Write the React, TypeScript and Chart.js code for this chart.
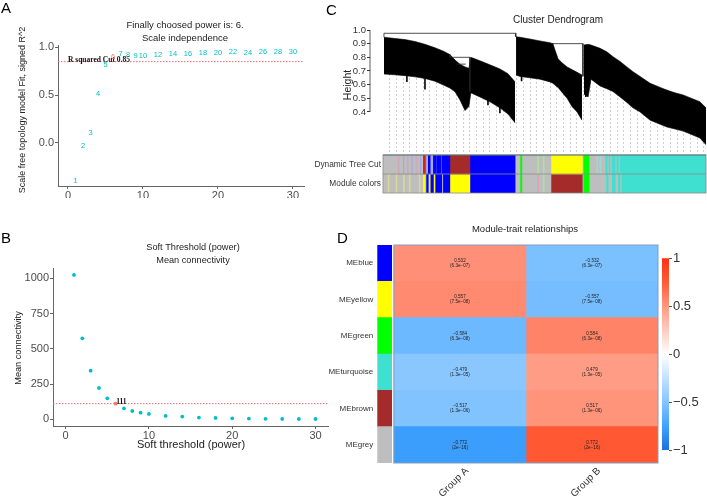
import React, { useEffect, useRef } from "react";
import { Chart, registerables } from "chart.js";
Chart.register(...registerables);

const SANS = "'Liberation Sans', Arial, Helvetica, sans-serif";
const SERIF = "'Liberation Serif', 'Times New Roman', serif";
Chart.defaults.font.family = SANS;

// ---------------- Panels A / B : soft-threshold selection ----------------
const powers = [1, 2, 3, 4, 5, 6, 7, 8, 9, 10, 12, 14, 16, 18, 20, 22, 24, 26, 28, 30];
const scaleFreeFit = [-0.40, -0.03, 0.109, 0.51, 0.815, 0.895, 0.93, 0.92, 0.91, 0.91, 0.92, 0.93, 0.93, 0.937, 0.937, 0.947, 0.937, 0.947, 0.95, 0.95];
const meanConnectivity = [1024, 574, 345, 222, 149, 111, 78, 59, 47, 38, 24, 19, 12, 9.5, 7, 5, 3.5, 3, 2, 2];
const chosenPower = 6;
const rSquaredCut = 0.85;

// ---------------- Panel C : cluster dendrogram ----------------
// leaf position = % of ordered genes, heights = merge height (1 - TOM)
const leftLeafPos = [0.3, 3.7, 6.8, 9.9, 13.0, 16.1, 18.9, 20.7, 22.3, 23.8, 25.4, 26.6, 27.2, 30.0, 33.1, 36.2, 38.7, 40.9];
const leftTop = [0.947, 0.938, 0.93, 0.916, 0.895, 0.87, 0.843, 0.82, 0.78, 0.75, 0.73, 0.72, 0.80, 0.775, 0.745, 0.715, 0.68, 0.62];
const leftBottom = [0.678, 0.672, 0.666, 0.657, 0.645, 0.625, 0.595, 0.575, 0.548, 0.49, 0.41, 0.44, 0.54, 0.51, 0.475, 0.43, 0.385, 0.32];
const midLeafPos = [41.2, 42.4, 45.5, 48.6, 51.7, 52.6, 53.6, 54.2, 55.4, 57.0, 58.5, 60.1, 61.6];
const midTop = [0.951, 0.947, 0.934, 0.92, 0.907, 0.90, 0.83, 0.79, 0.76, 0.73, 0.71, 0.69, 0.67];
const midBottom = [0.67, 0.66, 0.65, 0.64, 0.62, 0.61, 0.59, 0.58, 0.545, 0.50, 0.44, 0.40, 0.34];
const rightLeafPos = [62.2, 63.5, 64.4, 67.2, 69.3, 71.2, 73.4, 75.5, 77.4, 79.6, 82.7, 85.8, 87.9, 90.4, 92.9, 95.0, 98.1, 100];
const rightTop = [0.89, 0.895, 0.89, 0.866, 0.84, 0.805, 0.77, 0.73, 0.695, 0.66, 0.61, 0.58, 0.56, 0.54, 0.525, 0.505, 0.475, 0.43];
const rightBottom = [0.53, 0.51, 0.64, 0.59, 0.57, 0.55, 0.51, 0.47, 0.43, 0.40, 0.34, 0.31, 0.29, 0.275, 0.26, 0.24, 0.21, 0.16];
const spikePos = [7.4, 13.0, 32.5, 36.2, 42.9, 62.8];
const spikeLow = [0.62, 0.565, 0.45, 0.39, 0.625, 0.51];
const mergeRoot: [number, number][] = [[0.3, 0.947], [0.3, 0.976], [41.1, 0.976], [41.1, 0.95]];
const mergeLeftSub: [number, number][] = [[20.7, 0.82], [20.7, 0.80], [26.9, 0.80], [26.9, 0.55]];
const mergeLeftInner: [number, number][] = [[22.6, 0.75], [25.6, 0.75]];
const mergeMidSub: [number, number][] = [[52.6, 0.905], [52.6, 0.90], [61.9, 0.90], [61.9, 0.66]];
const heightTicks = [0.4, 0.5, 0.6, 0.7, 0.8, 0.9, 1.0];
const colorRows = ["Dynamic Tree Cut", "Module colors"];
const treeCutSegments: [number, number, string][] = [
  [4.7, 5.0, "pink"], [6.3, 6.5, "lavender"], [7.5, 7.8, "pink"], [8.9, 9.1, "lavender"], [10.2, 10.5, "pink"], [11.5, 11.7, "lavender"],
  [12.5, 12.9, "red"], [12.9, 13.3, "purple"], [14.0, 14.6, "blue"], [14.6, 15.4, "lavender"], [15.4, 16.4, "blue"], [16.6, 17.9, "blue"],
  [18.2, 20.7, "blue"], [20.7, 26.9, "brown"], [26.9, 40.9, "blue"], [42.6, 43.0, "green"], [47.9, 48.2, "palegreen"], [49.6, 49.9, "palegreen"],
  [52.2, 61.7, "yellow"], [62.2, 63.8, "green"], [66.2, 66.5, "paleturquoise"], [67.2, 67.5, "paleturquoise"], [69.0, 69.4, "turquoise"],
  [70.0, 70.3, "turquoise"], [70.9, 71.9, "turquoise"], [72.4, 72.9, "turquoise"], [73.4, 100, "turquoise"],
];
const moduleSegments: [number, number, string][] = [
  [1.6, 1.9, "paleyellow"], [4.0, 4.3, "paleyellow"], [6.3, 6.6, "paleyellow"], [8.1, 8.4, "paleyellow"], [11.2, 11.5, "paleyellow"],
  [12.5, 13.0, "yellow"], [13.5, 14.0, "blue"], [14.3, 14.6, "yellow"], [14.6, 15.6, "blue"], [15.8, 16.1, "yellow"], [16.1, 18.2, "blue"],
  [18.7, 20.7, "blue"], [20.7, 26.9, "yellow"], [26.9, 40.9, "blue"], [42.6, 43.0, "green"], [47.9, 48.2, "pink"], [49.6, 49.9, "palegreen"],
  [52.2, 61.7, "brown"], [62.2, 63.8, "green"], [69.2, 69.7, "turquoise"], [71.0, 71.9, "turquoise"], [72.9, 73.4, "turquoise"], [74.0, 100, "turquoise"],
];

// ---------------- Panel D : module-trait relationships ----------------
const modules = ["MEblue", "MEyellow", "MEgreen", "MEturquoise", "MEbrown", "MEgrey"];
const moduleColorNames = ["blue", "yellow", "green", "turquoise", "brown", "grey"];
const traits = ["Group A", "Group B"];
const corrGroupA = [0.532, 0.557, -0.584, -0.479, -0.517, -0.772];
const corrGroupB = [-0.532, -0.557, 0.584, 0.479, 0.517, 0.772];
const pvalGroupA = ["6.3e-07", "7.5e-08", "6.3e-08", "1.3e-05", "1.3e-06", "2e-16"];
const pvalGroupB = ["6.3e-07", "7.5e-08", "6.3e-08", "1.3e-05", "1.3e-06", "2e-16"];
const colorbarTicks = [-1, -0.5, 0, 0.5, 1];

// ---------------- styles ----------------
const COLOR_HEX: Record<string, string> = {
  grey: "#BEBEBE", blue: "#0000FF", brown: "#A52A2A", yellow: "#FFFF00", green: "#00FF00", turquoise: "#40E0D0",
  red: "#D42020", purple: "#7F50D0", lavender: "#A8A8E0", pink: "#D0A8B8", paleyellow: "#D8D890", palegreen: "#B0E0A0", paleturquoise: "#9ED8D0",
};
const CYAN = "#00BFC4";
const CORAL = "#F8766D";
const SCALE_STOPS: [number, number[]][] = [
  [-1, [30, 111, 224]], [-0.75, [63, 162, 255]], [-0.5, [133, 197, 255]], [0, [255, 255, 255]],
  [0.5, [255, 152, 128]], [0.75, [255, 92, 54]], [1, [255, 48, 16]],
];
function corrColor(v: number): string {
  for (let i = 0; i < SCALE_STOPS.length - 1; i++) {
    const [a, ca] = SCALE_STOPS[i];
    const [b, cb] = SCALE_STOPS[i + 1];
    if (v >= a && v <= b) {
      const t = (v - a) / (b - a);
      const c = ca.map((x, k) => Math.round(x + (cb[k] - x) * t));
      return `rgb(${c[0]},${c[1]},${c[2]})`;
    }
  }
  return "#fff";
}
const minus = (s: string) => s.replace("-", "\u2212");

type TextItem = { t: string; x: number; y: number; size: number; color?: string; family?: string; weight?: string; align?: CanvasTextAlign; baseline?: CanvasTextBaseline; rot?: number };
function textPlugin(id: string, items: TextItem[]) {
  return {
    id,
    afterDraw(chart: any) {
      const ctx = chart.ctx as CanvasRenderingContext2D;
      items.forEach((it) => {
        ctx.save();
        ctx.font = `${it.weight || "normal"} ${it.size}px ${it.family || SANS}`;
        ctx.fillStyle = it.color || "#222";
        ctx.textAlign = it.align || "center";
        ctx.textBaseline = it.baseline || "middle";
        ctx.translate(it.x, it.y);
        if (it.rot) ctx.rotate(it.rot);
        ctx.fillText(it.t, 0, 0);
        ctx.restore();
      });
    },
  };
}
const fixW = (w: number) => (s: any) => { s.width = w; };
const fixH = (h: number) => (s: any) => { s.height = h; };
const base = { animation: false, responsive: false, devicePixelRatio: 1, events: [] as any[] };
const noPlug = { legend: { display: false }, tooltip: { enabled: false } };

// ---------------- Panel A ----------------
function configA() {
  const X0 = -1.33, X1 = 31.47;
  const labels = {
    id: "sftLabels",
    afterDatasetsDraw(chart: any) {
      const ctx = chart.ctx as CanvasRenderingContext2D;
      const xs = chart.scales.x, ys = chart.scales.y;
      ctx.save();
      ctx.font = `bold 7.5px ${SERIF}`;
      ctx.fillStyle = "#111";
      ctx.textAlign = "left";
      ctx.textBaseline = "alphabetic";
      ctx.fillText("R squared Cut " + rSquaredCut, xs.getPixelForValue(0), ys.getPixelForValue(rSquaredCut));
      const meta = chart.getDatasetMeta(0);
      ctx.font = `7.5px ${SANS}`;
      ctx.textAlign = "center";
      ctx.textBaseline = "middle";
      meta.data.forEach((el: any, i: number) => {
        ctx.fillStyle = powers[i] === chosenPower ? CORAL : CYAN;
        ctx.fillText(String(powers[i]), el.x, el.y);
      });
      ctx.restore();
    },
  };
  return {
    type: "scatter",
    data: {
      datasets: [
        { data: powers.map((p, i) => ({ x: p, y: scaleFreeFit[i] })), pointRadius: 0 },
        { data: [{ x: X0, y: rSquaredCut }, { x: X1, y: rSquaredCut }], showLine: true, pointRadius: 0, borderColor: "#F06A70", borderWidth: 1, borderDash: [1.5, 1.5] },
      ],
    },
    options: {
      ...base,
      layout: { padding: { left: 18, top: 45, right: 16, bottom: 7 } },
      plugins: noPlug,
      scales: {
        x: {
          type: "linear", min: X0, max: X1, afterFit: fixH(12),
          ticks: { stepSize: 10, includeBounds: false, padding: 0, color: "#4d4d4d", font: { size: 11 }, maxRotation: 0 },
          grid: { drawOnChartArea: false, tickLength: 3, color: "#666" }, border: { color: "#666" },
        },
        y: {
          type: "linear", min: -0.45, max: 1.024, afterFit: fixW(40),
          ticks: { stepSize: 0.5, includeBounds: false, padding: 1, color: "#4d4d4d", font: { size: 11 }, callback: (v: number) => v.toFixed(1) },
          grid: { drawOnChartArea: false, tickLength: 3, color: "#666" }, border: { color: "#666" },
        },
      },
    },
    plugins: [
      labels,
      textPlugin("txtA", [
        { t: "A", x: 1, y: 13, size: 15, color: "#000", align: "left", baseline: "alphabetic" },
        { t: "Finally choosed power is: " + chosenPower + ".", x: 185, y: 25, size: 9.5 },
        { t: "Scale independence", x: 185, y: 38, size: 9.5 },
        { t: "Scale free topology model Fit, signed R^2", x: 23, y: 110, size: 9, rot: -Math.PI / 2 },
      ]),
    ],
  };
}

// ---------------- Panel B ----------------
function configB() {
  const X0 = -1.52, X1 = 31.5;
  const lab = {
    id: "kLabel",
    afterDatasetsDraw(chart: any) {
      const ctx = chart.ctx as CanvasRenderingContext2D;
      const idx = powers.indexOf(chosenPower);
      const el = chart.getDatasetMeta(0).data[idx];
      ctx.save();
      ctx.font = `bold 7.5px ${SERIF}`;
      ctx.fillStyle = "#111";
      ctx.textAlign = "left";
      ctx.textBaseline = "alphabetic";
      ctx.fillText(String(Math.round(meanConnectivity[idx])), el.x + 0.5, el.y + 0.5);
      ctx.restore();
    },
  };
  return {
    type: "scatter",
    data: {
      datasets: [
        {
          data: powers.map((p, i) => ({ x: p, y: meanConnectivity[i] })), pointRadius: 1.9, borderWidth: 0,
          backgroundColor: powers.map((p) => (p === chosenPower ? CORAL : CYAN)),
        },
        { data: [{ x: X0, y: meanConnectivity[powers.indexOf(chosenPower)] }, { x: X1, y: meanConnectivity[powers.indexOf(chosenPower)] }], showLine: true, pointRadius: 0, borderColor: "#F06A70", borderWidth: 1, borderDash: [1.5, 1.5] },
      ],
    },
    options: {
      ...base,
      layout: { padding: { left: 13, top: 68, right: 7, bottom: 56 } },
      plugins: noPlug,
      scales: {
        x: {
          type: "linear", min: X0, max: X1, afterFit: fixH(20),
          ticks: { stepSize: 10, includeBounds: false, padding: 0, color: "#4d4d4d", font: { size: 11 }, maxRotation: 0 },
          grid: { drawOnChartArea: false, tickLength: 3, color: "#666" }, border: { color: "#666" },
        },
        y: {
          type: "linear", min: -47.5, max: 1073, afterFit: fixW(40),
          ticks: { stepSize: 250, includeBounds: false, padding: 1, color: "#4d4d4d", font: { size: 11 }, callback: (v: number) => String(v) },
          grid: { drawOnChartArea: false, tickLength: 3, color: "#666" }, border: { color: "#666" },
        },
      },
    },
    plugins: [
      lab,
      textPlugin("txtB", [
        { t: "B", x: 1, y: 43, size: 15, color: "#000", align: "left", baseline: "alphabetic" },
        { t: "Soft Threshold (power)", x: 193, y: 47, size: 9.2 },
        { t: "Mean connectivity", x: 193, y: 60, size: 9.2 },
        { t: "Soft threshold (power)", x: 191, y: 245, size: 11 },
        { t: "Mean connectivity", x: 18, y: 148, size: 9.2, rot: -Math.PI / 2 },
      ]),
    ],
  };
}

// ---------------- Panel C (dendrogram) ----------------
function configC1() {
  const pts = (xs: number[], ys: number[]) => xs.map((x, i) => ({ x, y: ys[i] }));
  const line = (p: [number, number][]) => ({ data: p.map(([x, y]) => ({ x, y })), borderColor: "#222", borderWidth: 0.8, fill: false, order: 0 });
  const massTop = (xs: number[], ys: number[]) => ({ data: pts(xs, ys), borderColor: "#000", borderWidth: 0.6, backgroundColor: "#000", fill: "+1", order: 1 });
  const massBot = (xs: number[], ys: number[]) => ({ data: pts(xs, ys), borderColor: "#000", borderWidth: 0.6, fill: false, order: 1 });
  const cover = {
    data: [...pts(leftLeafPos, leftTop), ...pts(midLeafPos, midTop), ...pts(rightLeafPos, rightTop)],
    borderWidth: 0, backgroundColor: "#fff", fill: "end", order: 5,
  };
  const spikes = {
    data: spikePos.flatMap((p, i) => [{ x: p, y: spikeLow[i] }, { x: p, y: spikeLow[i] + 0.1 }, { x: p, y: null }]),
    borderColor: "#000", borderWidth: 1.6, fill: false, order: 0,
  };
  const axisLine = {
    id: "cAxis",
    afterDraw(chart: any) {
      const ctx = chart.ctx as CanvasRenderingContext2D;
      const ys = chart.scales.y;
      const x = chart.chartArea.left;
      ctx.save();
      ctx.strokeStyle = "#333";
      ctx.lineWidth = 0.8;
      ctx.beginPath();
      ctx.moveTo(x, ys.getPixelForValue(heightTicks[heightTicks.length - 1]));
      ctx.lineTo(x, ys.getPixelForValue(heightTicks[0]));
      ctx.stroke();
      ctx.restore();
    },
  };
  return {
    type: "line",
    data: {
      datasets: [
        line(mergeRoot), line(mergeLeftSub), line(mergeLeftInner), line(mergeMidSub), spikes,
        massTop(leftLeafPos, leftTop), massBot(leftLeafPos, leftBottom),
        massTop(midLeafPos, midTop), massBot(midLeafPos, midBottom),
        massTop(rightLeafPos, rightTop), massBot(rightLeafPos, rightBottom),
        cover,
      ],
    },
    options: {
      ...base,
      layout: { padding: { left: 0, top: 30, right: 1, bottom: 7 } },
      plugins: { ...noPlug, filler: { propagate: false } },
      elements: { point: { radius: 0 }, line: { tension: 0 } },
      scales: {
        x: {
          type: "linear", min: -4.02, max: 100, afterFit: fixH(0),
          ticks: { display: false, stepSize: 2.07, autoSkip: false, includeBounds: false },
          afterBuildTicks: (s: any) => { s.ticks = s.ticks.filter((t: any) => t.value > 0.5); },
          grid: { color: "#c4c4c4", lineWidth: 0.8, drawTicks: false },
          border: { display: false, dash: [2, 2] },
        },
        y: {
          type: "linear", min: 0.107, max: 1.0, afterFit: fixW(50),
          afterBuildTicks: (s: any) => { s.ticks = heightTicks.map((v) => ({ value: v })); },
          ticks: { padding: 1, color: "#333", font: { size: 9.5 }, callback: (v: number) => v.toFixed(1) },
          grid: { drawOnChartArea: false, tickLength: 3, color: "#333" },
          border: { display: false },
        },
      },
    },
    plugins: [
      axisLine,
      textPlugin("txtC", [
        { t: "C", x: 6, y: 15, size: 15, color: "#000", align: "left", baseline: "alphabetic" },
        { t: "Cluster Dendrogram", x: 238, y: 20, size: 10 },
        { t: "Height", x: 28, y: 85, size: 10.5, rot: -Math.PI / 2 },
      ]),
    ],
  };
}

// ---------------- Panel C (colour rows) ----------------
function configC2() {
  const seg = (row: number, s: [number, number, string]) => ({
    data: row === 0 ? [[s[0], s[1]], null] : [null, [s[0], s[1]]],
    backgroundColor: COLOR_HEX[s[2]], grouped: false, barPercentage: 1, categoryPercentage: 1, borderWidth: 0, order: 0,
  });
  const frame = {
    id: "rowFrame",
    afterDatasetsDraw(chart: any) {
      const ctx = chart.ctx as CanvasRenderingContext2D;
      const a = chart.chartArea;
      ctx.save();
      ctx.strokeStyle = "#8a8a8a";
      ctx.lineWidth = 0.8;
      ctx.strokeRect(a.left, a.top, a.right - a.left, a.bottom - a.top);
      ctx.beginPath();
      const mid = chart.scales.y.getPixelForValue(0.5);
      ctx.moveTo(a.left, mid);
      ctx.lineTo(a.right, mid);
      ctx.stroke();
      ctx.strokeStyle = "#4a6a6a";
      ctx.beginPath();
      ctx.moveTo(a.left, a.top);
      ctx.lineTo(a.right, a.top);
      ctx.stroke();
      ctx.restore();
    },
  };
  const baseRow = { data: [[0, 100], [0, 100]], backgroundColor: COLOR_HEX.grey, grouped: false, barPercentage: 1, categoryPercentage: 1, borderWidth: 0, order: 10 };
  return {
    type: "bar",
    data: {
      labels: colorRows,
      datasets: [baseRow, ...treeCutSegments.map((s) => seg(0, s)), ...moduleSegments.map((s) => seg(1, s))],
    },
    options: {
      ...base,
      indexAxis: "y",
      layout: { padding: { left: 0, top: 6, right: 1, bottom: 5 } },
      plugins: noPlug,
      scales: {
        x: { type: "linear", min: 0, max: 100, display: false },
        y: {
          type: "category", afterFit: fixW(83),
          ticks: { padding: 2, color: "#333", font: { size: 8.3 } },
          grid: { display: false, drawTicks: false }, border: { display: false },
        },
      },
    },
    plugins: [frame],
  };
}

// ---------------- Panel D (heatmap) ----------------
function configD() {
  const SIDE0 = -0.126, SIDE1 = -0.017;
  const bar = { grouped: false, barPercentage: 1, categoryPercentage: 1, borderWidth: 0 };
  const cellText = {
    id: "cellText",
    afterDatasetsDraw(chart: any) {
      const ctx = chart.ctx as CanvasRenderingContext2D;
      const xs = chart.scales.x;
      const a = chart.chartArea;
      ctx.save();
      ctx.font = `4.6px ${SANS}`;
      ctx.fillStyle = "#222";
      ctx.textAlign = "center";
      ctx.textBaseline = "middle";
      [1, 2].forEach((di, k) => {
        const corr = k === 0 ? corrGroupA : corrGroupB;
        const pv = k === 0 ? pvalGroupA : pvalGroupB;
        chart.getDatasetMeta(di).data.forEach((el: any, i: number) => {
          const p = el.getProps(["x", "base", "y"], true);
          const cx = (p.x + p.base) / 2;
          ctx.fillText(minus(corr[i].toFixed(3)), cx, p.y - 2.4);
          ctx.fillText("(" + minus(pv[i]) + ")", cx, p.y + 2.6);
        });
      });
      ctx.strokeStyle = "#7f9fbf";
      ctx.lineWidth = 1;
      const x0 = xs.getPixelForValue(0), x1 = xs.getPixelForValue(2);
      ctx.strokeRect(x0, a.top, x1 - x0, a.bottom - a.top);
      ctx.restore();
    },
  };
  return {
    type: "bar",
    data: {
      labels: modules,
      datasets: [
        { ...bar, data: modules.map(() => [SIDE0, SIDE1]), backgroundColor: moduleColorNames.map((n) => COLOR_HEX[n]) },
        { ...bar, data: modules.map(() => [0, 1]), backgroundColor: corrGroupA.map(corrColor) },
        { ...bar, data: modules.map(() => [1, 2]), backgroundColor: corrGroupB.map(corrColor) },
      ],
    },
    options: {
      ...base,
      indexAxis: "y",
      layout: { padding: { left: 0, top: 45, right: 49, bottom: 0 } },
      plugins: noPlug,
      scales: {
        x: {
          type: "linear", min: SIDE0, max: 2, afterFit: fixH(39),
          afterBuildTicks: (s: any) => { s.ticks = traits.map((_, i) => ({ value: i + 0.5 })); },
          ticks: { minRotation: 45, maxRotation: 45, autoSkip: false, padding: 2, labelOffset: 7, color: "#333", font: { size: 10 }, callback: (_v: number, i: number) => traits[i] },
          grid: { display: false, drawTicks: false }, border: { display: false },
        },
        y: {
          type: "category", afterFit: fixW(57.3),
          ticks: { padding: 4, color: "#333", font: { size: 8 } },
          grid: { display: false, drawTicks: false }, border: { display: false },
        },
      },
    },
    plugins: [
      cellText,
      textPlugin("txtD", [
        { t: "D", x: 17, y: 43, size: 15, color: "#000", align: "left", baseline: "alphabetic" },
        { t: "Module-trait relationships", x: 205, y: 29, size: 9.5 },
      ]),
    ],
  };
}

function configBar() {
  return {
    type: "bar",
    data: {
      labels: [""],
      datasets: [
        {
          data: [[colorbarTicks[0], colorbarTicks[colorbarTicks.length - 1]]],
          barPercentage: 1, categoryPercentage: 1, borderWidth: 0,
          backgroundColor: (c: any) => {
            const ca = c.chart.chartArea;
            if (!ca) return "#fff";
            const g = c.chart.ctx.createLinearGradient(0, ca.bottom, 0, ca.top);
            SCALE_STOPS.forEach(([v, col]) => g.addColorStop((v + 1) / 2, `rgb(${col[0]},${col[1]},${col[2]})`));
            return g;
          },
        },
      ],
    },
    options: {
      ...base,
      layout: { padding: { left: 22, top: 18.3, right: 0, bottom: 20 } },
      plugins: noPlug,
      scales: {
        x: { display: false },
        y: {
          position: "right", min: -1, max: 1, afterFit: fixW(38),
          afterBuildTicks: (s: any) => { s.ticks = colorbarTicks.map((v) => ({ value: v })); },
          ticks: { padding: 1, color: "#333", font: { size: 13 }, callback: (v: number) => minus(String(v)) },
          grid: { drawOnChartArea: false, tickLength: 3, color: "#555" },
          border: { display: false },
        },
      },
    },
  };
}

function ChartBox({ left, top, width, height, make }: { left: number; top: number; width: number; height: number; make: () => any }) {
  const ref = useRef<HTMLCanvasElement>(null);
  useEffect(() => {
    const chart = new Chart(ref.current as HTMLCanvasElement, make());
    return () => chart.destroy();
  }, []);
  return <canvas ref={ref} width={width} height={height} style={{ position: "absolute", left, top, width, height }} />;
}

export default function App() {
  return (
    <div style={{ position: "absolute", left: 0, top: 0, width: 707, height: 502, background: "#fff", overflow: "hidden" }}>
      <ChartBox left={0} top={0} width={320} height={205} make={configA} />
      <ChartBox left={0} top={200} width={335} height={302} make={configB} />
      <ChartBox left={320} top={0} width={387} height={159} make={configC1} />
      <ChartBox left={300} top={148} width={407} height={52} make={configC2} />
      <ChartBox left={320} top={200} width={387} height={302} make={configD} />
      <ChartBox left={640} top={240} width={67} height={230} make={configBar} />
    </div>
  );
}
